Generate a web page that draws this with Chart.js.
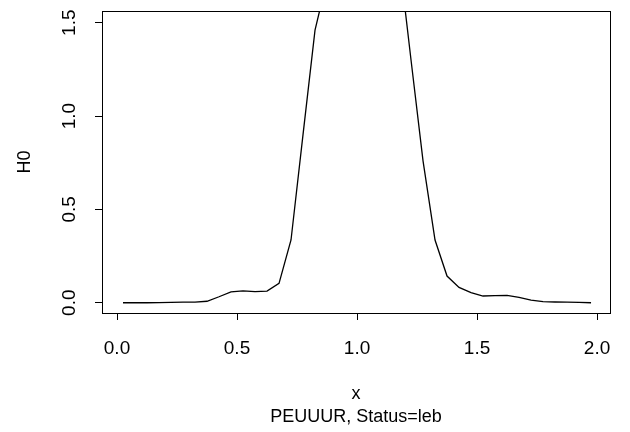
<!DOCTYPE html>
<html>
<head>
<meta charset="utf-8">
<script src="https://cdn.jsdelivr.net/npm/chart.js@4.4.1/dist/chart.umd.min.js"></script>
<style>
  html, body { margin: 0; padding: 0; background: #fff; }
  #wrap { width: 630px; height: 432px; }
</style>
</head>
<body>
<div id="wrap"><canvas id="myChart" width="630" height="432"></canvas></div>
<script>
// grid of x values (density estimate evaluated here)
var xVals = [0.025, 0.075, 0.125, 0.175, 0.225, 0.275, 0.325, 0.375, 0.425, 0.475,
             0.525, 0.575, 0.625, 0.675, 0.725, 0.775, 0.825, 0.875, 0.925, 0.975,
             1.025, 1.075, 1.125, 1.175, 1.225, 1.275, 1.325, 1.375, 1.425, 1.475,
             1.525, 1.575, 1.625, 1.675, 1.725, 1.775, 1.825, 1.875, 1.925, 1.975]
// H0 values (the peak goes past the top of the plot and is clipped)
var h0Vals = [0.000, 0.000, 0.000, 0.001, 0.002, 0.003, 0.003, 0.008, 0.032, 0.058,
              0.064, 0.059, 0.062, 0.104, 0.336, 0.900, 1.460, 1.730, 1.950, 2.050,
              2.080, 2.050, 1.960, 1.850, 1.300, 0.760, 0.336, 0.143, 0.082, 0.054,
              0.036, 0.038, 0.039, 0.029, 0.014, 0.006, 0.004, 0.003, 0.002, 0.000]
var xTicks = [0, 0.5, 1, 1.5, 2]
var yTicks = [0, 0.5, 1, 1.5]
var xTitle = 'x'
var yTitle = 'H0'
var subTitle = 'PEUUUR, Status=leb'

var fam = '"Liberation Sans", Arial, Helvetica, sans-serif'

var points = xVals.map(function (x, i) { return { x: x, y: h0Vals[i] } })

// box, y tick labels and titles, R style
var rBox = {
    id: 'rBox',
    afterDraw: function (chart) {
        var c = chart.ctx
        var a = chart.chartArea
        var ys = chart.scales.y
        c.save()
        c.strokeStyle = '#000'
        c.lineWidth = 1
        c.strokeRect(Math.round(a.left) + 0.5, Math.round(a.top) + 0.5,
            Math.round(a.right - a.left), Math.round(a.bottom - a.top))

        c.fillStyle = '#000'
        c.font = '19px ' + fam
        c.textAlign = 'center'
        c.textBaseline = 'middle'
        yTicks.forEach(function (v) {
            c.save()
            c.translate(69, ys.getPixelForValue(v))
            c.rotate(-Math.PI / 2)
            c.fillText(v.toFixed(1), 0, 1)
            c.restore()
        })

        c.font = '18px ' + fam
        c.save()
        c.translate(25, (a.top + a.bottom) / 2)
        c.rotate(-Math.PI / 2)
        c.fillText(yTitle, 0, 0)
        c.restore()

        c.textBaseline = 'alphabetic'
        var cx = (a.left + a.right) / 2
        c.fillText(xTitle, cx, 399)
        c.fillText(subTitle, cx, 422)
        c.restore()
    }
}

const ctx = document.getElementById('myChart').getContext('2d')
const myChart = new Chart(ctx, {
    type: 'line',
    data: {
        datasets: [{
            label: 'H0',
            data: points,
            borderColor: '#000',
            borderWidth: 1.3,
            pointRadius: 0,
            fill: false,
            tension: 0
        }]
    },
    options: {
        responsive: false,
        animation: false,
        layout: { padding: { top: 11, right: 20, left: 0, bottom: 0 } },
        plugins: {
            legend: { display: false },
            tooltip: { enabled: false }
        },
        scales: {
            x: {
                type: 'linear',
                min: -0.0625,
                max: 2.054,
                afterFit: function (s) { s.height = 119 },
                afterBuildTicks: function (s) { s.ticks = xTicks.map(function (v) { return { value: v } }) },
                border: { display: false },
                grid: { drawOnChartArea: false, drawTicks: true, tickLength: 7, color: '#000', lineWidth: 1 },
                ticks: {
                    color: '#000',
                    font: { family: fam, size: 19 },
                    padding: 17,
                    maxRotation: 0,
                    callback: function (v) { return Number(v).toFixed(1) }
                }
            },
            y: {
                type: 'linear',
                min: -0.055,
                max: 1.5625,
                afterFit: function (s) { s.width = 102 },
                afterBuildTicks: function (s) { s.ticks = yTicks.map(function (v) { return { value: v } }) },
                border: { display: false },
                grid: { drawOnChartArea: false, drawTicks: true, tickLength: 7, color: '#000', lineWidth: 1 },
                ticks: { display: false }
            }
        }
    },
    plugins: [rBox]
})
</script>
</body>
</html>
